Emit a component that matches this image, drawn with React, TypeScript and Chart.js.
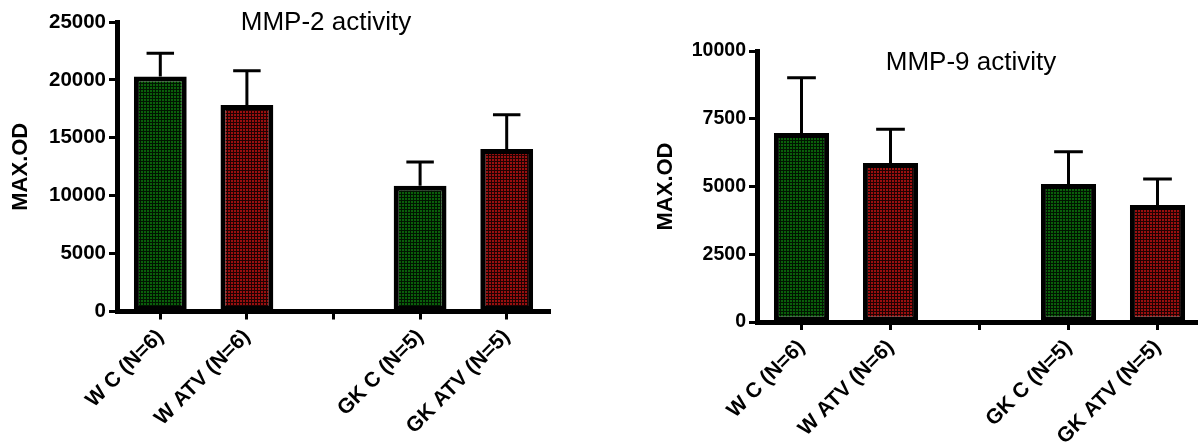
import React, { useEffect, useRef } from 'react';
import { Chart, registerables } from 'chart.js';

Chart.register(...registerables);

// ---- data ----
const categories = ['W C (N=6)', 'W ATV (N=6)', '', 'GK C (N=5)', 'GK ATV (N=5)'];
const barKinds = ['green', 'red', 'green', 'green', 'red'];

const mmp2Means = [20300, 17830, 0, 10850, 14030];
const mmp2Sem = [2010, 2950, 0, 2070, 2950];
const mmp2Ticks = [0, 5000, 10000, 15000, 20000, 25000];

const mmp9Means = [6970, 5870, 0, 5090, 4320];
const mmp9Sem = [2040, 1245, 0, 1190, 960];
const mmp9Ticks = [0, 2500, 5000, 7500, 10000];

const FONT = "'Liberation Sans', Arial, sans-serif";

function makePattern(bright: string, dark: string): CanvasPattern | string {
  const tile = document.createElement('canvas');
  tile.width = 3;
  tile.height = 3;
  const c = tile.getContext('2d');
  if (!c) return bright;
  c.fillStyle = dark;
  c.fillRect(0, 0, 3, 3);
  c.fillStyle = bright;
  c.fillRect(0, 0, 2, 2);
  const p = c.createPattern(tile, 'repeat');
  return p || bright;
}

const errorBarsPlugin = {
  id: 'errorBars',
  afterDatasetsDraw(chart: any, _args: any, opts: any) {
    const errs: number[] = opts && opts.errors;
    if (!errs) return;
    const meta = chart.getDatasetMeta(0);
    const yScale = chart.scales.y;
    const values: number[] = chart.data.datasets[0].data;
    const ctx = chart.ctx;
    ctx.save();
    ctx.strokeStyle = '#000';
    ctx.lineWidth = opts.lineWidth || 3;
    meta.data.forEach((bar: any, i: number) => {
      const e = errs[i];
      if (!e) return;
      const yTop = yScale.getPixelForValue(values[i] + e);
      const half = (bar.width * (opts.capRatio || 0.5)) / 2;
      ctx.beginPath();
      ctx.moveTo(bar.x, bar.y);
      ctx.lineTo(bar.x, yTop);
      ctx.moveTo(bar.x - half, yTop);
      ctx.lineTo(bar.x + half, yTop);
      ctx.stroke();
    });
    ctx.restore();
  },
};

const panelTitlePlugin = {
  id: 'panelTitle',
  afterDraw(chart: any, _args: any, opts: any) {
    if (!opts || !opts.text) return;
    const ctx = chart.ctx;
    ctx.save();
    ctx.font = `${opts.size}px ${FONT}`;
    ctx.fillStyle = '#000';
    ctx.textAlign = 'center';
    ctx.textBaseline = 'alphabetic';
    ctx.fillText(opts.text, opts.x, opts.y);
    ctx.restore();
  },
};

interface PanelProps {
  title: string;
  means: number[];
  sem: number[];
  ticks: number[];
  left: number;
  width: number;
  padTop: number;
  padRight: number;
  xAxisHeight: number;
  yTitlePad: number;
  tickSize: number;
  titleX: number;
  titleY: number;
  barPct: number;
}

function Panel(props: PanelProps) {
  const ref = useRef<HTMLCanvasElement | null>(null);
  useEffect(() => {
    if (!ref.current) return;
    const green = makePattern('#0a600a', '#011501');
    const red = makePattern('#9a0f0f', '#200202');
    const colors = barKinds.map((k) => (k === 'green' ? green : red));
    const step = props.ticks[1] - props.ticks[0];
    const max = props.ticks[props.ticks.length - 1];
    const chart = new Chart(ref.current, {
      type: 'bar',
      data: {
        labels: categories,
        datasets: [
          {
            data: props.means,
            backgroundColor: colors as any,
            borderColor: '#000',
            borderWidth: 5,
            borderSkipped: false,
            categoryPercentage: 1,
            barPercentage: props.barPct,
          },
        ],
      },
      options: {
        responsive: false,
        animation: false,
        devicePixelRatio: 1,
        layout: { padding: { left: 0, top: props.padTop, right: props.padRight, bottom: 0 } },
        plugins: {
          legend: { display: false },
          tooltip: { enabled: false },
          errorBars: { errors: props.sem, lineWidth: 3, capRatio: 0.52 },
          panelTitle: { text: props.title, x: props.titleX, y: props.titleY, size: 26 },
        } as any,
        scales: {
          x: {
            offset: true,
            ticks: {
              autoSkip: false,
              maxRotation: 45,
              minRotation: 45,
              padding: 5,
              color: '#000',
              font: { family: FONT, size: 21, weight: 'bold' },
            },
            grid: {
              offset: false,
              drawOnChartArea: false,
              drawTicks: true,
              tickLength: 8,
              tickWidth: 3,
              tickColor: '#000',
            },
            border: { display: true, width: 5, color: '#000' },
            afterFit: (s: any) => {
              s.height = props.xAxisHeight;
            },
          },
          y: {
            min: 0,
            max: max,
            ticks: {
              stepSize: step,
              padding: 3,
              color: '#000',
              font: { family: FONT, size: props.tickSize, weight: 'bold' },
              callback: (v: any) => String(v),
            },
            grid: {
              drawOnChartArea: false,
              drawTicks: true,
              tickLength: 8,
              tickWidth: 3,
              tickColor: '#000',
            },
            border: { display: true, width: 5, color: '#000' },
            title: {
              display: true,
              text: 'MAX.OD',
              color: '#000',
              font: { family: FONT, size: 22, weight: 'bold' },
              padding: { top: props.yTitlePad, bottom: 0 },
            },
            afterFit: (s: any) => {
              s.width = 117;
            },
          },
        },
      },
      plugins: [errorBarsPlugin, panelTitlePlugin],
    });
    return () => chart.destroy();
  }, []);
  return (
    <canvas
      ref={ref}
      width={props.width}
      height={445}
      style={{ position: 'absolute', left: props.left, top: 0, width: props.width, height: 445 }}
    />
  );
}

export default function App() {
  return (
    <div
      style={{
        position: 'absolute',
        left: 0,
        top: 0,
        width: 1198,
        height: 445,
        overflow: 'hidden',
        background: '#fff',
      }}
    >
      <Panel
        title="MMP-2 activity"
        means={mmp2Means}
        sem={mmp2Sem}
        ticks={mmp2Ticks}
        left={0}
        width={560}
        padTop={22}
        padRight={10}
        xAxisHeight={133.5}
        yTitlePad={8}
        tickSize={20.5}
        titleX={326}
        titleY={30}
        barPct={0.61}
      />
      <Panel
        title="MMP-9 activity"
        means={mmp9Means}
        sem={mmp9Sem}
        ticks={mmp9Ticks}
        left={640}
        width={566}
        padTop={51}
        padRight={4}
        xAxisHeight={123}
        yTitlePad={13}
        tickSize={19.5}
        titleX={331}
        titleY={70}
        barPct={0.62}
      />
    </div>
  );
}
